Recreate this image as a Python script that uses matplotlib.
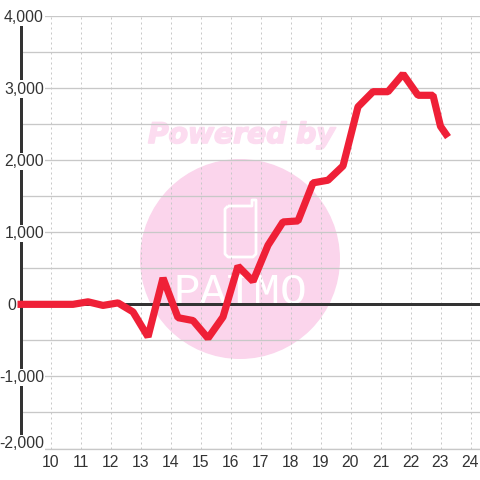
import matplotlib
matplotlib.use("Agg")
import matplotlib.pyplot as plt
import matplotlib.patheffects as pe
from matplotlib.patches import Circle, PathPatch
from matplotlib.path import Path
from matplotlib.transforms import Affine2D

hours = [8.9, 9.25, 9.75, 10.25, 10.75, 11.25, 11.75, 12.25, 12.75, 13.25, 13.75,
         14.25, 14.75, 15.25, 15.75, 16.25, 16.75, 17.25, 17.75, 18.25, 18.75,
         19.25, 19.75, 20.25, 20.75, 21.25, 21.75, 22.25, 22.75, 23.0, 23.25]
balance = [0, 0, 0, 0, 0, 35, -15, 20, -105, -450, 365,
           -185, -225, -470, -175, 530, 320, 820, 1143, 1157, 1685,
           1722, 1920, 2740, 2950, 2950, 3195, 2900, 2900, 2470, 2320]
x_ticks = list(range(10, 25))
y_major = [-2000, -1000, 0, 1000, 2000, 3000, 4000]
y_minor = [-1500, -500, 500, 1500, 2500, 3500]

W = 480
PX = 0.72  # one pixel in points
# pixel coords measured from the top of the picture
flip = Affine2D().scale(1, -1).translate(0, W)

fig = plt.figure(figsize=(4.8, 4.8), dpi=100, facecolor="white")
ax = fig.add_axes([20 / W, 1 - 448.5 / W, 460 / W, 432.5 / W])
ax.patch.set_visible(False)
ax.set_xlim(10 - 30.5 / 30, 10 + 429.5 / 30)
ax.set_ylim(-2000, 4000)

# watermark behind the chart
fig.add_artist(Circle((240, 259), 100, fc="#fbd5ec", ec="none", transform=flip, zorder=-5))
fig.text(241.5 / W, 1 - 135 / W, "Powered by", color="#fcdcf0", fontsize=20.3,
         fontweight="bold", fontstyle="italic", family="DejaVu Sans",
         ha="center", va="center", zorder=-4,
         path_effects=[pe.withStroke(linewidth=1.2, foreground="#fcdcf0")])
phone = [(228, 206), (252, 206), (252, 200), (256, 200), (256, 254), (253, 257),
         (228, 257), (225, 254), (225, 209), (228, 206)]
fig.add_artist(PathPatch(Path(phone), fc="none", ec="white", lw=2, joinstyle="round",
                         transform=flip, zorder=-4))
fig.text(240 / W, 1 - 304 / W, "PATMO", color="white", fontsize=32, family="Liberation Mono",
         ha="center", va="baseline", zorder=-4)

for s in ax.spines.values():
    s.set_visible(False)
ax.spines["bottom"].set_visible(True)
ax.spines["bottom"].set_color("#c8c8c8")
ax.spines["bottom"].set_linewidth(1.3 * PX)

for v in y_major + y_minor:
    ax.axhline(v, color="#c8c8c8", lw=1.3 * PX, zorder=1)
for v in x_ticks:
    ax.axvline(v, color="#c8c8c8", lw=PX, ls=(0, (2, 3)), zorder=1)

ax.axhline(0, color="#333333", lw=3 * PX, zorder=2)
ax.axvline(ax.get_xlim()[0] + 0.5 / 30, color="#333333", lw=3 * PX, zorder=2, clip_on=False)

ax.plot(hours, balance, color="#ef2037", lw=7.2 * PX, solid_joinstyle="bevel",
        solid_capstyle="butt", clip_on=False, zorder=3)

ax.set_xticks(x_ticks)
ax.set_yticks(y_major)
ax.set_yticklabels([])
ax.tick_params(length=0, labelsize=11.3, labelcolor="#333333")
ax.tick_params(axis="x", pad=4.5)
for lab in ax.get_xticklabels():
    lab.set_family("Liberation Sans")

# y labels sit inside the axis and break its line
for v in y_major:
    dx = -4 if v == 0 else 24
    dy = 5 if v == -2000 else -1
    box = None if v == 0 else dict(fc="white", ec="none", pad=0.8)
    ax.annotate(f"{v:,}", xy=(0, v), xycoords=ax.get_yaxis_transform(),
                xytext=(dx * PX, dy * PX), textcoords="offset points",
                ha="right", va="center", fontsize=11.3, color="#333333",
                family="Liberation Sans", bbox=box, zorder=4, annotation_clip=False)

fig.savefig("out.png", dpi=100)
